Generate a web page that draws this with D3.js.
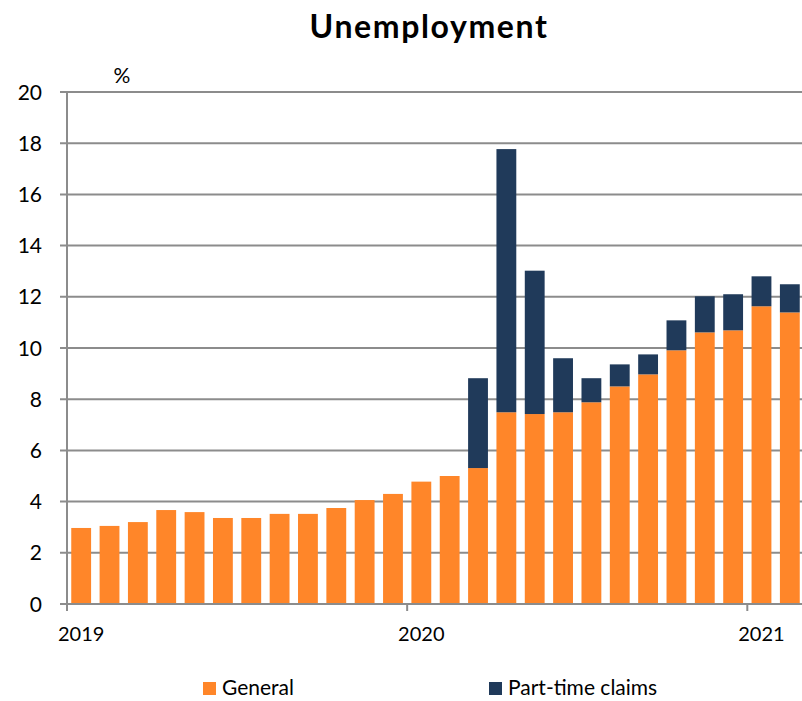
<!DOCTYPE html>
<meta charset="utf-8">
<style>
    body {
        margin: 0;
        background: #fff;
        font-family: Lato, "Open Sans", sans-serif;
    }

    .grid line {
        stroke: #8c8c8c;
        stroke-width: 2px;
    }

    .axis text {
        fill: #000;
    }
</style>

<body>
    <script src="https://cdnjs.cloudflare.com/ajax/libs/d3/7.8.5/d3.min.js"></script>
    <script>
        // Months Jan 2019 .. Feb 2021
        var months = ["2019-01", "2019-02", "2019-03", "2019-04", "2019-05", "2019-06",
            "2019-07", "2019-08", "2019-09", "2019-10", "2019-11", "2019-12",
            "2020-01", "2020-02", "2020-03", "2020-04", "2020-05", "2020-06",
            "2020-07", "2020-08", "2020-09", "2020-10", "2020-11", "2020-12",
            "2021-01", "2021-02"];
        var general = [2.97, 3.05, 3.20, 3.67, 3.59, 3.36, 3.36, 3.52, 3.52, 3.75, 4.06, 4.30,
            4.78, 5.00, 5.31, 7.49, 7.42, 7.49, 7.88, 8.50, 8.97, 9.91, 10.61, 10.69, 11.63, 11.39];
        var partTime = [0, 0, 0, 0, 0, 0, 0, 0, 0, 0, 0, 0,
            0, 0, 3.51, 10.28, 5.60, 2.11, 0.94, 0.86, 0.78, 1.17, 1.41, 1.41, 1.17, 1.10];
        var yTicks = [0, 2, 4, 6, 8, 10, 12, 14, 16, 18, 20];
        var yearLabels = ["2019", "2020", "2021"];
        var seriesNames = ["General", "Part-time claims"];
        var colors = ["#ff8629", "#203a5a"];

        var width = 802,
            height = 701;
        var margin = { top: 92, right: -2, bottom: 97, left: 67 };

        var svg = d3.select("body").append("svg")
            .attr("width", width)
            .attr("height", height);

        var x = d3.scaleBand()
            .domain(months)
            .range([margin.left, width - margin.right])
            .paddingInner(0.3)
            .paddingOuter(0.15);

        var y = d3.scaleLinear()
            .domain([0, 20])
            .range([height - margin.bottom, margin.top]);

        // gridlines
        svg.append("g")
            .attr("class", "grid")
            .selectAll("line")
            .data(yTicks)
            .enter().append("line")
            .attr("x1", margin.left - 7)
            .attr("x2", width)
            .attr("y1", function (d) { return y(d); })
            .attr("y2", function (d) { return y(d); });

        // y labels
        svg.append("g")
            .attr("class", "axis")
            .selectAll("text")
            .data(yTicks)
            .enter().append("text")
            .attr("x", 42)
            .attr("y", function (d) { return y(d); })
            .attr("dy", "0.36em")
            .attr("text-anchor", "end")
            .style("font-size", "21px")
            .text(function (d) { return d; });

        svg.append("text")
            .attr("x", 122)
            .attr("y", 83)
            .attr("text-anchor", "middle")
            .style("font-size", "21px")
            .text("%");

        // stacked bars
        var stackData = months.map(function (m, i) {
            return { month: m, general: general[i], part: partTime[i] };
        });
        var stack = d3.stack().keys(["general", "part"])(stackData);

        svg.append("g")
            .selectAll("g")
            .data(stack)
            .enter().append("g")
            .attr("fill", function (d, i) { return colors[i]; })
            .selectAll("rect")
            .data(function (d) { return d.filter(function (p) { return p[1] > p[0]; }); })
            .enter().append("rect")
            .attr("x", function (d) { return x(d.data.month); })
            .attr("width", x.bandwidth())
            .attr("y", function (d) { return y(d[1]); })
            .attr("height", function (d) { return y(d[0]) - y(d[1]); });

        // y axis line
        svg.append("line")
            .attr("x1", margin.left)
            .attr("x2", margin.left)
            .attr("y1", y(20))
            .attr("y2", y(0) + 1)
            .attr("stroke", "#8c8c8c")
            .attr("stroke-width", 2);

        // x axis line + year ticks
        var step = x.step();
        var bandStart = function (m) { return x(m) - step * x.paddingInner() / 2; };
        var janMonths = months.filter(function (m) { return m.slice(5) === "01"; });

        svg.append("line")
            .attr("x1", margin.left)
            .attr("x2", width)
            .attr("y1", y(0))
            .attr("y2", y(0))
            .attr("stroke", "#8c8c8c")
            .attr("stroke-width", 2);

        svg.append("g")
            .selectAll("line")
            .data(janMonths)
            .enter().append("line")
            .attr("x1", function (d) { return bandStart(d); })
            .attr("x2", function (d) { return bandStart(d); })
            .attr("y1", y(0))
            .attr("y2", y(0) + 7)
            .attr("stroke", "#8c8c8c")
            .attr("stroke-width", 2);

        svg.append("g")
            .attr("class", "axis")
            .selectAll("text")
            .data(janMonths)
            .enter().append("text")
            .attr("x", function (d) { return x(d) + x.bandwidth() / 2; })
            .attr("y", 641)
            .attr("text-anchor", "middle")
            .style("font-size", "20px")
            .text(function (d, i) { return yearLabels[i]; });

        // title
        svg.append("text")
            .attr("x", 429)
            .attr("y", 38)
            .attr("text-anchor", "middle")
            .style("font-size", "32px")
            .style("font-weight", "bold")
            .style("letter-spacing", "1.6px")
            .text("Unemployment");

        // legend
        var legendX = [203, 489];
        var legend = svg.append("g")
            .selectAll("g")
            .data(seriesNames)
            .enter().append("g")
            .attr("transform", function (d, i) { return "translate(" + legendX[i] + ",682)"; });
        legend.append("rect")
            .attr("width", 13)
            .attr("height", 13)
            .attr("fill", function (d, i) { return colors[i]; });
        legend.append("text")
            .attr("x", 19)
            .attr("y", 13)
            .style("font-size", "21px")
            .text(function (d) { return d; });
    </script>
</body>
